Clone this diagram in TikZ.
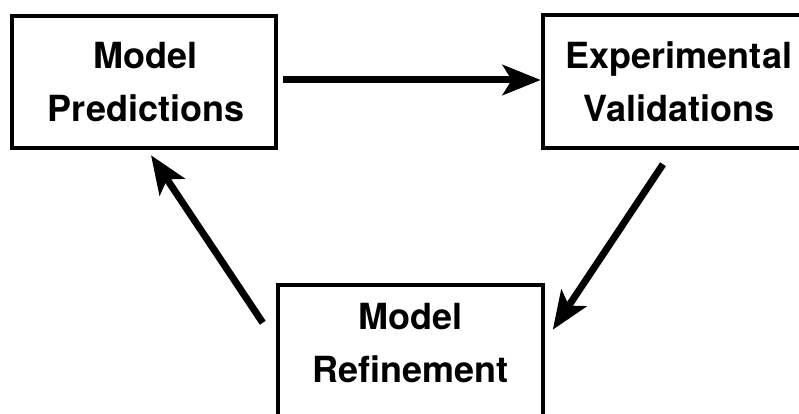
\documentclass[tikz,border=0pt]{standalone}
\usepackage{fontspec}
\setmainfont{TeX Gyre Heros}
\usetikzlibrary{arrows.meta}
\tikzset{
  box/.style={draw=black, line width=4.5pt, rectangle, inner sep=0pt},
  lbl/.style={align=center, font=\bfseries\fontsize{36}{53}\selectfont, inner sep=0pt},
  arr/.style={line width=7pt, -{Stealth[length=38pt,width=30pt,inset=9pt]}}
}
\begin{document}
\begin{tikzpicture}[x=1pt,y=-1pt]
\useasboundingbox (0,0) rectangle (799,414);
\node[box, minimum width=264pt, minimum height=132pt] (p) at (144,82) {};
\node[lbl] (pt) at (146,82) {Model\\Predictions};
\node[box, minimum width=272pt, minimum height=133pt] (v) at (679,81.5) {};
\node[lbl] (vt) at (679,82) {Experimental\\Validations};
\node[box, minimum width=265pt, minimum height=140pt] (r) at (410.5,355) {};
\node[lbl] (rt) at (410.5,343.5) {Model\\Refinement};
\coordinate (a1) at ([shift={(5,-2)}]p.east);
\draw[arr] (a1) -- (v.west |- a1);
\draw[arr] ([shift={(-16,14)}]v.south) -- ([shift={(7.5,47)}]r.north east);
\draw[arr] ([shift={(-13,40)}]r.north west) -- ([shift={(7,5)}]p.south);
\end{tikzpicture}
\end{document}
